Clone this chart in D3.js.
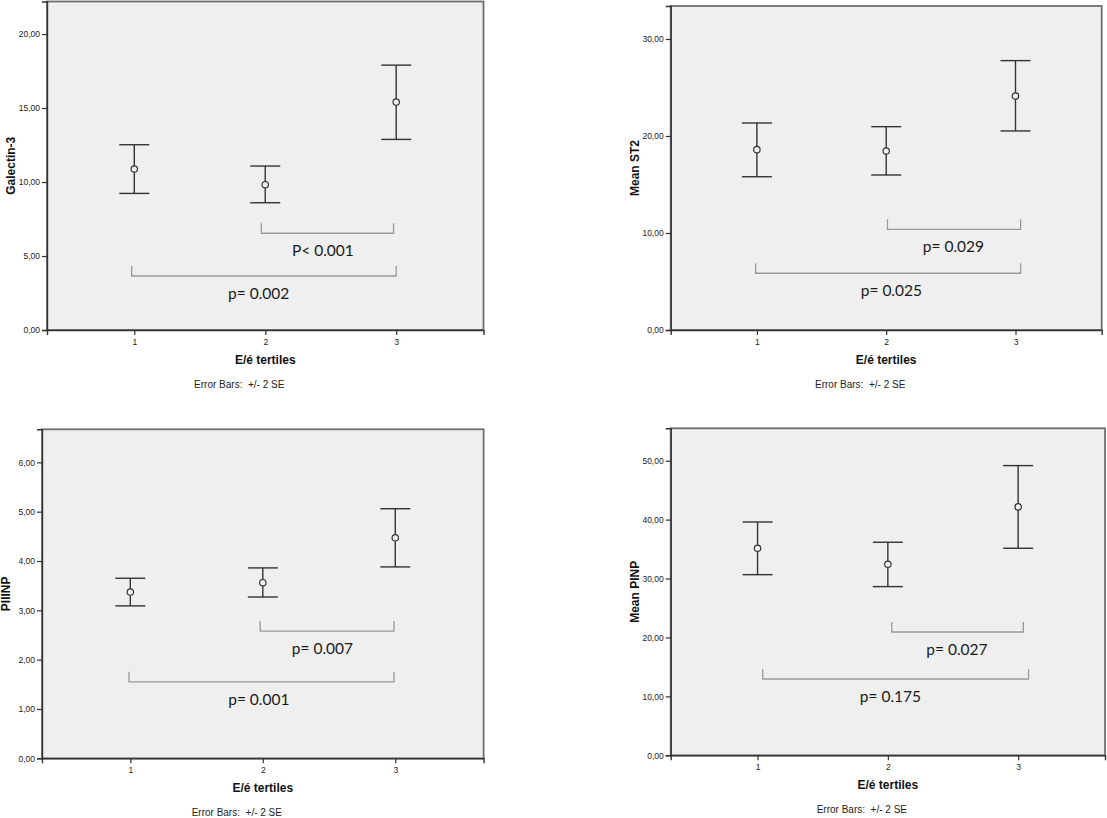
<!DOCTYPE html>
<html>
<head>
<meta charset="utf-8">
<script src="https://cdn.jsdelivr.net/npm/d3@7"></script>
<style>
  body { margin: 0; background: #fff; }
  svg { display: block; }
  .tick text { font-family: "Liberation Sans", Arial, sans-serif; font-size: 8.5px; fill: #222; }
</style>
</head>
<body>
<svg id="chart" width="1107" height="818"></svg>
<script>
// tertile groups on the x axis
const groups = [1, 2, 3];

// mean and +/- 2 SE bounds
const galectinMean = [10.88, 9.82, 15.40];
const galectinLow  = [9.23, 8.60, 12.88];
const galectinHigh = [12.52, 11.08, 17.90];

const st2Mean = [18.59, 18.45, 24.12];
const st2Low  = [15.80, 15.98, 20.52];
const st2High = [21.34, 20.96, 27.77];

const piiinpMean = [3.37, 3.56, 4.47];
const piiinpLow  = [3.09, 3.27, 3.88];
const piiinpHigh = [3.65, 3.86, 5.06];

const pinpMean = [35.14, 32.43, 42.16];
const pinpLow  = [30.66, 28.63, 35.14];
const pinpHigh = [39.60, 36.16, 49.17];

// y tick values
const galectinTicks = [0, 5, 10, 15, 20];
const st2Ticks = [0, 10, 20, 30];
const piiinpTicks = [0, 1, 2, 3, 4, 5, 6];
const pinpTicks = [0, 10, 20, 30, 40, 50];

// brackets: [x from, x to, y level, label x, label]
const galectinBrackets = [[1.97, 2.98, 6.54, 2.44, "P< 0.001"], [0.98, 3.0, 3.65, 1.95, "p= 0.002"]];
const st2Brackets = [[2.01, 3.04, 10.38, 2.52, "p= 0.029"], [0.99, 3.04, 5.85, 2.04, "p= 0.025"]];
const piiinpBrackets = [[1.98, 2.99, 2.58, 2.45, "p= 0.007"], [0.99, 2.99, 1.55, 1.97, "p= 0.001"]];
const pinpBrackets = [[2.03, 3.04, 20.93, 2.53, "p= 0.027"], [1.04, 3.08, 12.95, 2.02, "p= 0.175"]];

const xTitle = "E/é tertiles";
const footNote = "Error Bars:  +/- 2 SE";

var svg = d3.select("#chart");
var commaFmt = function(d) { return d3.format(".2f")(d).replace(".", ","); };

function drawPanel(box, yMax, ticks, yTitle, mean, low, high, brackets) {
    var g = svg.append("g");
    var x = d3.scaleLinear().domain([1/3, 11/3]).range([box.left, box.right]);
    var y = d3.scaleLinear().domain([0, yMax]).range([box.bottom, box.top]);

    // plot background + frame
    g.append("rect")
        .attr("x", box.left).attr("y", box.top)
        .attr("width", box.right - box.left).attr("height", box.bottom - box.top)
        .attr("fill", "#efefef")
        .attr("stroke", "#6e6e6e")
        .attr("stroke-width", 1.8);

    // axes
    var yAxis = d3.axisLeft(y).tickValues(ticks).tickFormat(commaFmt).tickSizeOuter(0).tickSize(5).tickPadding(2);
    var ya = g.append("g").attr("transform", "translate(" + box.left + ",0)").call(yAxis);
    ya.select(".domain").attr("stroke", "#333").attr("stroke-width", 1.4);
    ya.selectAll(".tick line").attr("stroke", "#333").attr("stroke-width", 1.2);

    var xAxis = d3.axisBottom(x).tickValues(groups).tickFormat(d3.format("d")).tickSizeOuter(0).tickSize(5).tickPadding(4);
    var xa = g.append("g").attr("transform", "translate(0," + box.bottom + ")").call(xAxis);
    xa.select(".domain").attr("stroke", "#333").attr("stroke-width", 1.4);
    xa.selectAll(".tick line").attr("stroke", "#333").attr("stroke-width", 1.2);

    // error bars
    var cap = 15;
    var eb = g.selectAll(".eb").data(groups).join("g").attr("class", "eb");
    eb.append("line")
        .attr("x1", function(d) { return x(d); }).attr("x2", function(d) { return x(d); })
        .attr("y1", function(d, i) { return y(low[i]); }).attr("y2", function(d, i) { return y(high[i]); })
        .attr("stroke", "#333").attr("stroke-width", 1.4);
    eb.append("line")
        .attr("x1", function(d) { return x(d) - cap; }).attr("x2", function(d) { return x(d) + cap; })
        .attr("y1", function(d, i) { return y(high[i]); }).attr("y2", function(d, i) { return y(high[i]); })
        .attr("stroke", "#333").attr("stroke-width", 1.4);
    eb.append("line")
        .attr("x1", function(d) { return x(d) - cap; }).attr("x2", function(d) { return x(d) + cap; })
        .attr("y1", function(d, i) { return y(low[i]); }).attr("y2", function(d, i) { return y(low[i]); })
        .attr("stroke", "#333").attr("stroke-width", 1.4);
    eb.append("circle")
        .attr("cx", function(d) { return x(d); })
        .attr("cy", function(d, i) { return y(mean[i]); })
        .attr("r", 3.2)
        .attr("fill", "#efefef").attr("stroke", "#333").attr("stroke-width", 1.2);

    // significance brackets
    var br = g.selectAll(".br").data(brackets).join("g").attr("class", "br");
    br.append("path")
        .attr("d", function(d) {
            var x1 = x(d[0]), x2 = x(d[1]), yb = y(d[2]);
            return "M" + x1 + "," + (yb - 10) + "V" + yb + "H" + x2 + "V" + (yb - 10);
        })
        .attr("fill", "none").attr("stroke", "#9a9a9a").attr("stroke-width", 1.3);
    br.append("text")
        .attr("x", function(d) { return x(d[3]); })
        .attr("y", function(d) { return y(d[2]) + 23; })
        .attr("text-anchor", "middle")
        .style("font-family", "Lato, 'Open Sans', sans-serif")
        .style("font-size", "15.5px")
        .style("fill", "#1a1a1a")
        .text(function(d) { return d[4]; });

    // titles
    g.append("text")
        .attr("transform", "translate(" + (box.left - 32) + "," + ((box.top + box.bottom) / 2) + ") rotate(-90)")
        .attr("text-anchor", "middle")
        .style("font-family", "'Liberation Sans', Arial, sans-serif")
        .style("font-weight", "bold")
        .style("font-size", "12px")
        .style("fill", "#111")
        .text(yTitle);
    g.append("text")
        .attr("x", x(2)).attr("y", box.bottom + 34)
        .attr("text-anchor", "middle")
        .style("font-family", "'Liberation Sans', Arial, sans-serif")
        .style("font-weight", "bold")
        .style("font-size", "12px")
        .style("fill", "#111")
        .text(xTitle);
    g.append("text")
        .attr("x", x(2) - 26).attr("y", box.bottom + 58)
        .attr("text-anchor", "middle")
        .style("white-space", "pre")
        .style("font-family", "'Liberation Sans', Arial, sans-serif")
        .style("font-size", "10px")
        .style("fill", "#222")
        .text(footNote);
}

drawPanel({left: 47, top: 1.5, right: 483.5, bottom: 330}, 22.2, galectinTicks, "Galectin-3",
    galectinMean, galectinLow, galectinHigh, galectinBrackets);
drawPanel({left: 670.7, top: 6, right: 1101.7, bottom: 330}, 33.4, st2Ticks, "Mean ST2",
    st2Mean, st2Low, st2High, st2Brackets);
drawPanel({left: 42, top: 429.3, right: 483.6, bottom: 758.3}, 6.67, piiinpTicks, "PIIINP",
    piiinpMean, piiinpLow, piiinpHigh, piiinpBrackets);
drawPanel({left: 670.7, top: 428.3, right: 1105, bottom: 755.3}, 55.5, pinpTicks, "Mean PINP",
    pinpMean, pinpLow, pinpHigh, pinpBrackets);
</script>
</body>
</html>
